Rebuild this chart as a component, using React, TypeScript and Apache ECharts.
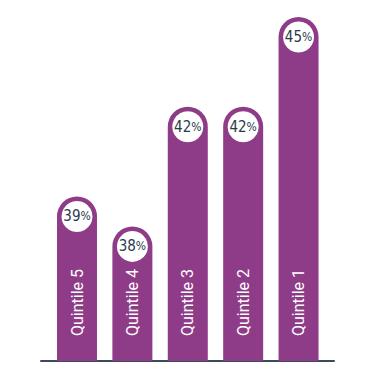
import React, { useEffect, useRef } from "react";
import * as echarts from "echarts";

const categories = ["Quintile 5", "Quintile 4", "Quintile 3", "Quintile 2", "Quintile 1"];
const values = [39, 38, 42, 42, 45];
const positions = [1, 2, 3, 4, 5];

const PURPLE = "#8f3c88";
const NAVY = "#2c3a4c";
const NARROW = "'DejaVu Sans Condensed', 'Liberation Sans Narrow', 'Liberation Sans', sans-serif";

export default function App() {
  const ref = useRef<HTMLDivElement>(null);
  useEffect(() => {
    if (!ref.current) return;
    const chart = echarts.init(ref.current, null, { renderer: "svg" });
    const data = positions.map((p, i) => [p, values[i]]);
    chart.setOption({
      animation: false,
      grid: { left: 41, right: 41, top: 17, bottom: 14, containLabel: false },
      xAxis: {
        type: "value",
        min: 0.35,
        max: 5.64,
        axisLine: { show: true, onZero: false, lineStyle: { color: "#3d4a5c", width: 2 } },
        axisTick: { show: false },
        axisLabel: { show: false },
        splitLine: { show: false },
      },
      yAxis: {
        type: "value",
        min: 33.5,
        max: 45,
        show: false,
        splitLine: { show: false },
      },
      series: [
        {
          type: "bar",
          data,
          barWidth: 40,
          clip: true,
          itemStyle: { color: PURPLE, borderRadius: [20, 20, 0, 0] },
          label: {
            show: true,
            position: "insideBottom",
            rotate: 90,
            distance: 25,
            align: "left",
            verticalAlign: "middle",
            color: "#ffffff",
            fontFamily: "Roboto, 'Liberation Sans', sans-serif",
            fontSize: 16,
            formatter: (p: any) => categories[p.dataIndex],
          },
          z: 2,
        },
        {
          type: "scatter",
          data,
          symbol: "circle",
          symbolSize: 31,
          symbolOffset: [0, 20],
          itemStyle: { color: "#ffffff", opacity: 1 },
          label: {
            show: true,
            position: "inside",
            color: NAVY,
            fontFamily: NARROW,
            formatter: (p: any) => "{n|" + p.value[1] + "}{p|%}",
            rich: {
              n: { fontFamily: NARROW, fontSize: 15, color: NAVY },
              p: { fontFamily: NARROW, fontSize: 12, color: NAVY },
            },
          },
          z: 3,
        },
      ],
    });
    return () => chart.dispose();
  }, []);
  return (
    <div
      ref={ref}
      style={{ position: "fixed", left: 0, top: 0, width: 375, height: 375, background: "#fff" }}
    />
  );
}
